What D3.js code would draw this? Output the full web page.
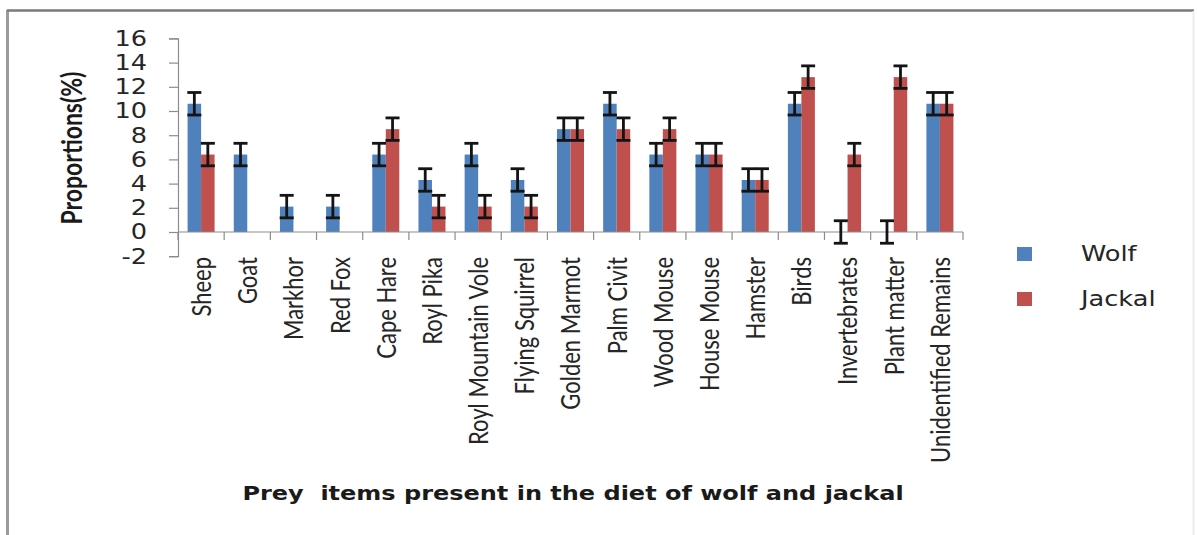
<!DOCTYPE html>
<html>
<head>
<meta charset="utf-8">
<script src="https://cdn.jsdelivr.net/npm/d3@7"></script>
<style>
  html, body { margin: 0; padding: 0; background: #ffffff; }
  svg { display: block; }
  text { white-space: pre; }
</style>
</head>
<body>
<svg id="chart" width="1197" height="535"></svg>
<script>
// Prey items found in scats of wolf and jackal (% of occurrences)
const categories = [
  "Sheep", "Goat", "Markhor", "Red Fox", "Cape Hare", "Royl Pika",
  "Royl Mountain Vole", "Flying Squirrel", "Golden Marmot", "Palm Civit",
  "Wood Mouse", "House Mouse", "Hamster", "Birds", "Invertebrates",
  "Plant matter", "Unidentified Remains"
];
const seriesNames = ["Wolf", "Jackal"];
const wolfValues   = [10.6, 6.4, 2.1, 2.1, 6.4, 4.3, 6.4, 4.3, 8.5, 10.6, 6.4, 6.4, 4.3, 10.6, 0, 0, 10.6];
const jackalValues = [6.4, null, null, null, 8.5, 2.1, 2.1, 2.1, 8.5, 8.5, 8.5, 6.4, 4.3, 12.8, 6.4, 12.8, 10.6];
const errorAmount = [0.93, 0.93]; // fixed error bar size for each series
const yTicks = [-2, 0, 2, 4, 6, 8, 10, 12, 14, 16];
const yTitle = "Proportions(%)";
const xTitle = "Prey  items present in the diet of wolf and jackal";

const colors = ["#4f81bd", "#c0504d"];
const SX = 1.25; // horizontal glyph stretch

const svg = d3.select("#chart");

// outer frame (left and top edges dark, right edge faint)
svg.append("line").attr("x1", 7.5).attr("x2", 7.5).attr("y1", 10).attr("y2", 535)
  .attr("stroke", "#9a9a9a").attr("stroke-width", 3);
svg.append("line").attr("x1", 7).attr("x2", 1194).attr("y1", 10.5).attr("y2", 10.5)
  .attr("stroke", "#7a7a7a").attr("stroke-width", 2.5);
svg.append("line").attr("x1", 1193.5).attr("x2", 1193.5).attr("y1", 11).attr("y2", 535)
  .attr("stroke", "#ececec").attr("stroke-width", 2);

const plotLeft = 178, plotRight = 963;
const x = d3.scaleBand().domain(categories).range([plotLeft, plotRight]).padding(0);
const xs = d3.scaleBand().domain(seriesNames).range([0, x.bandwidth()])
  .paddingInner(0).paddingOuter(0.71);
const y = d3.scaleLinear().domain([-2, 16]).range([256.2, 38.4]);

const rows = categories.map((c, i) => ({ cat: c, vals: [wolfValues[i], jackalValues[i]] }));

// bars
const g = svg.append("g");
rows.forEach(r => {
  r.vals.forEach((v, s) => {
    if (v === null) return;
    const x0 = x(r.cat) + xs(seriesNames[s]);
    g.append("rect")
      .attr("x", x0)
      .attr("width", xs.bandwidth())
      .attr("y", Math.min(y(v), y(0)))
      .attr("height", Math.abs(y(0) - y(v)))
      .attr("fill", colors[s]);
  });
});

// value axis
const yAxis = d3.axisLeft(y).tickValues(yTicks).tickSize(9).tickFormat(d3.format("d"));
const yG = svg.append("g").attr("transform", `translate(${plotLeft},0)`).call(yAxis);
yG.select(".domain").attr("stroke", "#8c8c8c").attr("stroke-width", 1.2);
yG.selectAll(".tick line").attr("stroke", "#8c8c8c").attr("stroke-width", 1.2);
yG.selectAll(".tick text").remove();
yTicks.forEach(t => {
  yG.append("text")
    .attr("transform", `translate(${-31},${y(t)}) scale(${SX},1)`)
    .attr("text-anchor", "end")
    .attr("dy", "0.36em")
    .attr("font-family", "DejaVu Sans, Verdana, sans-serif")
    .attr("font-size", 20.5)
    .attr("fill", "#262626")
    .text(t);
});

// category axis along the zero line
const xAxis = svg.append("g");
xAxis.append("line").attr("x1", plotLeft).attr("x2", plotRight)
  .attr("y1", y(0)).attr("y2", y(0)).attr("stroke", "#8c8c8c").attr("stroke-width", 1.2);
const bounds = categories.map(c => x(c)).concat([plotRight]);
xAxis.selectAll("line.tk").data(bounds).join("line").attr("class", "tk")
  .attr("x1", d => d).attr("x2", d => d)
  .attr("y1", y(0)).attr("y2", y(0) + 8)
  .attr("stroke", "#8c8c8c").attr("stroke-width", 1.2);

// category labels, rotated
svg.append("g").selectAll("text").data(categories).join("text")
  .attr("transform", d => `translate(${x(d) + x.bandwidth() / 2},257) rotate(-90) scale(1,${SX})`)
  .attr("text-anchor", "end")
  .attr("dy", "0.36em")
  .attr("font-family", "Lato, 'Liberation Sans', sans-serif")
  .attr("font-size", 22)
  .attr("fill", "#262626")
  .text(d => d);

// error bars
const eb = svg.append("g").attr("stroke", "#141414").attr("stroke-width", 2.8);
rows.forEach(r => {
  r.vals.forEach((v, s) => {
    if (v === null) return;
    const cx = x(r.cat) + xs(seriesNames[s]) + xs.bandwidth() / 2;
    const e = errorAmount[s];
    const cap = 7;
    eb.append("line").attr("x1", cx).attr("x2", cx).attr("y1", y(v + e)).attr("y2", y(v - e));
    eb.append("line").attr("x1", cx - cap).attr("x2", cx + cap).attr("y1", y(v + e)).attr("y2", y(v + e));
    eb.append("line").attr("x1", cx - cap).attr("x2", cx + cap).attr("y1", y(v - e)).attr("y2", y(v - e));
  });
});

// axis titles
svg.append("text")
  .attr("transform", `translate(82,148) rotate(-90) scale(1,${SX})`)
  .attr("text-anchor", "middle")
  .attr("font-family", "Lato, 'Liberation Sans', sans-serif")
  .attr("font-weight", "bold")
  .attr("font-size", 23)
  .attr("fill", "#1a1a1a")
  .text(yTitle);

svg.append("text")
  .attr("transform", `translate(573,500) scale(${SX},1)`)
  .attr("text-anchor", "middle")
  .attr("font-family", "DejaVu Sans, Verdana, sans-serif")
  .attr("font-weight", "bold")
  .attr("font-size", 19.2)
  .attr("fill", "#1a1a1a")
  .text(xTitle);

// legend
const legendY = [254, 299];
seriesNames.forEach((name, s) => {
  svg.append("rect")
    .attr("x", 1017).attr("y", legendY[s] - 7)
    .attr("width", 15).attr("height", 14)
    .attr("fill", colors[s]);
  svg.append("text")
    .attr("transform", `translate(1081,${legendY[s]}) scale(${SX},1)`)
    .attr("dy", "0.36em")
    .attr("font-family", "DejaVu Sans, Verdana, sans-serif")
    .attr("font-size", 20.5)
    .attr("fill", "#262626")
    .text(name);
});
</script>
</body>
</html>
